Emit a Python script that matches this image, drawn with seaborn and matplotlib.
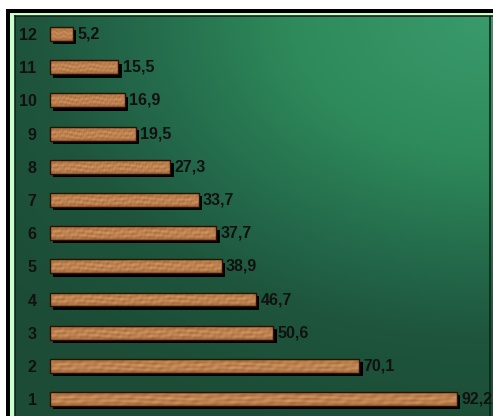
import numpy as np
import seaborn as sns
import matplotlib.pyplot as plt
from matplotlib.patches import Rectangle
import matplotlib.patheffects as pe

# data (top of chart is "12")
categories = ['1', '2', '3', '4', '5', '6', '7', '8', '9', '10', '11', '12']
values = [92.2, 70.1, 50.6, 46.7, 38.9, 37.7, 33.7, 27.3, 19.5, 16.9, 15.5, 5.2]
order = categories[::-1]

W, H = 493, 416
fig = plt.figure(figsize=(W / 100, H / 100), dpi=100)
fig.patch.set_facecolor('white')

def px(x0, y0, x1, y1):
    # pixel box (top-left origin) -> figure fraction
    return [x0 / W, 1 - y1 / H, (x1 - x0) / W, (y1 - y0) / H]

# outer frame: black, then light green band
b = px(6, 9, 495, 420)
fig.patches.append(Rectangle((b[0], b[1]), b[2], b[3], transform=fig.transFigure,
                             facecolor='black', edgecolor='none', zorder=-2))
b = px(9.5, 12.5, 495, 420)
fig.patches.append(Rectangle((b[0], b[1]), b[2], b[3], transform=fig.transFigure,
                             facecolor='#ccffcc', edgecolor='none', zorder=-1))

ax = fig.add_axes(px(15, 16, 494, 416))
ax.set_zorder(1)

# green background gradient, brightest in the top-right corner
gx, gy = np.meshgrid(np.linspace(0, 479, 240), np.linspace(0, 400, 200))
d = np.sqrt(((475 - gx) / 500) ** 2 + (gy / 350) ** 2)
stops = [0, 0.4, 0.72, 0.92, 1.25]
cols = np.array([[58, 154, 108], [46, 138, 90], [35, 104, 74], [30, 85, 60], [28, 76, 54]]) / 255
grad = np.dstack([np.interp(d, stops, cols[:, i]) for i in range(3)])
ax.imshow(grad, extent=[0, 1, 0, 1], transform=ax.transAxes, aspect='auto',
          origin='upper', zorder=0)
ax.plot([475 / 479] * 2, [0, 1], transform=ax.transAxes, color='#0c2618', lw=1.2, zorder=1)

sns.barplot(x=values, y=categories, order=order, orient='h', color='#b87a45',
            width=0.42, ax=ax, zorder=2)

# wood texture
ty, tx = np.meshgrid(np.linspace(0, 1, 16), np.linspace(0, 1, 400), indexing='ij')
grain = (0.62 + 0.10 * np.sin(2 * np.pi * (ty * 3.1 + 0.25 * np.sin(tx * 13)))
         + 0.08 * np.sin(tx * 97 + ty * 11) + 0.06 * np.sin(tx * 233 + ty * 5)
         + 0.05 * np.sin(tx * 31 - ty * 17))
edge = 1 - 0.55 * (np.abs(ty - 0.5) * 2) ** 3
t = np.clip(grain * edge, 0, 1)
dark = np.array([140, 78, 36]) / 255
light = np.array([222, 165, 110]) / 255
wood = dark + (light - dark) * t[..., None]

for p in ax.patches:
    p.set_path_effects([pe.SimplePatchShadow(offset=(2.4, -2.4), shadow_rgbFace='black', alpha=1),
                        pe.Normal()])
    x0, y0 = p.get_x(), p.get_y()
    w, h = p.get_width(), p.get_height()
    im = ax.imshow(wood, extent=[x0, x0 + w, y0 + h, y0], aspect='auto', zorder=2.1)
    im.set_clip_path(p)
    ax.add_patch(Rectangle((x0, y0), w, h, fill=False, edgecolor='#2a1200', lw=1, zorder=2.2))

ax.bar_label(ax.containers[0], fmt=lambda v: ('%.1f' % v).replace('.', ','),
             padding=3.0, fontsize=11.5, fontweight='bold', family='Liberation Sans',
             color='#111111', zorder=3)

ax.set_xlim(-7.93, 100.6)
ax.set_ylim(11.51, -0.544)
ax.set_xlabel('')
ax.set_ylabel('')
ax.set_xticks([])
ax.tick_params(axis='y', length=0, pad=-15.5, labelsize=11.5)
for lbl in ax.get_yticklabels():
    lbl.set_fontweight('bold')
    lbl.set_family('Liberation Sans')
    lbl.set_color('#111111')
for s in ['left', 'top']:
    ax.spines[s].set_color('#0c2618')
    ax.spines[s].set_linewidth(1.2)
ax.spines['bottom'].set_visible(False)
ax.spines['right'].set_visible(False)

fig.savefig('out.png', dpi=100)
